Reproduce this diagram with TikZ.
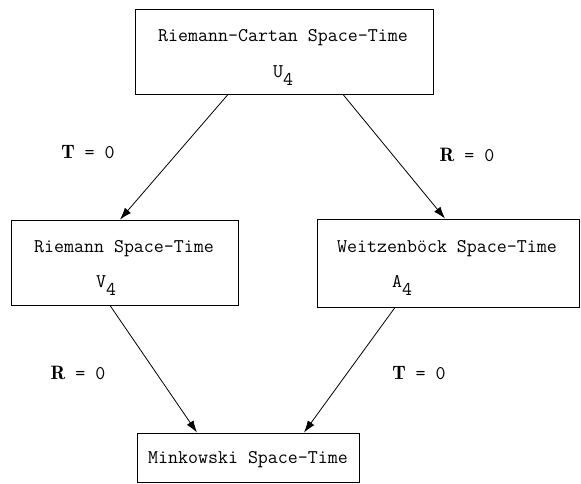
\documentclass[tikz,border=0pt]{standalone}
\usepackage{fontspec}
\usetikzlibrary{arrows.meta}
\tikzset{
  spacebox/.style={draw, line width=0.9pt, inner sep=0pt},
  boxtext/.style={font=\ttfamily\fontsize{19.4}{22}\selectfont, inner sep=0pt, anchor=base},
  cond/.style={font=\ttfamily\fontsize{19.4}{22}\selectfont, inner sep=0pt},
  reduce/.style={line width=0.8pt, -{Latex[length=12pt,width=8pt]}},
}
\newcommand{\sym}[2]{#1\raisebox{-8pt}{#2}}
\begin{document}
\begin{tikzpicture}[x=1pt,y=-1pt]
\useasboundingbox (0,0) rectangle (581,483);
% boxes
\node[spacebox, minimum width=298pt, minimum height=85pt] (uc) at (284,51.5) {};
\node[spacebox, minimum width=227pt, minimum height=85pt] (vr) at (124.5,262.5) {};
\node[spacebox, minimum width=262pt, minimum height=88pt] (aw) at (448,263) {};
\node[spacebox, minimum width=222pt, minimum height=49pt] (mk) at (248,457.5) {};
% box texts
\node[boxtext] (uct) at (283,41) {Riemann-Cartan Space-Time};
\node[boxtext] (ucs) at (283,77) {\sym{U}{4}};
\node[boxtext] (vrt) at (124,252) {Riemann Space-Time};
\node[boxtext] (vrs) at (106,287) {\sym{V}{4}};
\node[boxtext] (awt) at (447,252) {Weitzenb\"ock Space-Time};
\node[boxtext] (aws) at (402,287) {\sym{A}{4}};
\node[boxtext] (mkt) at (248,463) {Minkowski Space-Time};
% reductions
\draw[reduce] ([xshift=-56pt]uc.south) -- ([xshift=-4.5pt]vr.north);
\draw[reduce] ([xshift=59pt]uc.south) -- ([xshift=-3pt]aw.north);
\draw[reduce] ([xshift=-14.5pt]vr.south) -- ([xshift=-51pt]mk.north);
\draw[reduce] ([xshift=-53pt]aw.south) -- ([xshift=56pt]mk.north);
% conditions
\node[cond] (c1) at (88,152) {$\mathbf{T}$ = 0};
\node[cond] (c2) at (467,155) {$\mathbf{R}$ = 0};
\node[cond] (c3) at (78,373) {$\mathbf{R}$ = 0};
\node[cond] (c4) at (419,373) {$\mathbf{T}$ = 0};
\end{tikzpicture}
\end{document}
